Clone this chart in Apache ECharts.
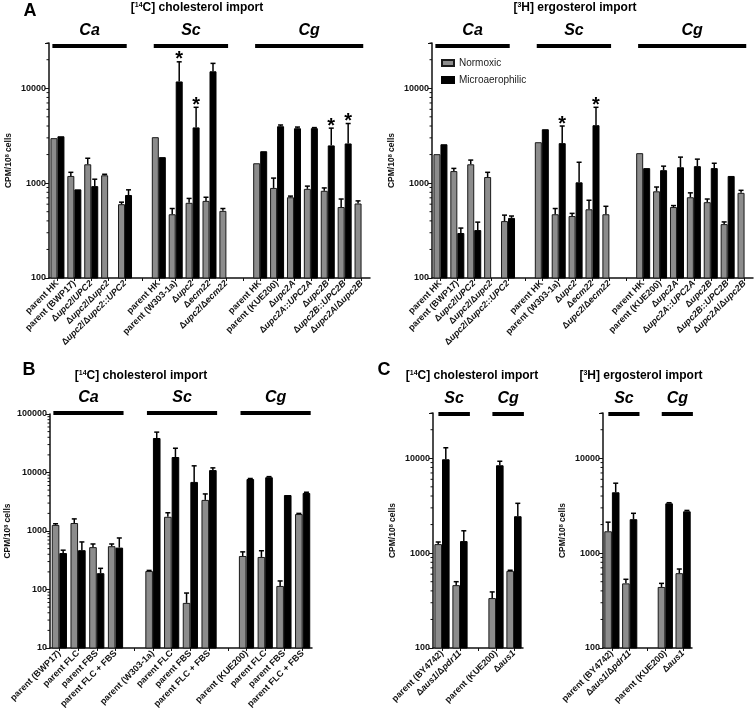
<!DOCTYPE html>
<html>
<head>
<meta charset="utf-8">
<script src="https://cdn.jsdelivr.net/npm/echarts@6/dist/echarts.min.js"></script>
<style>html,body{margin:0;padding:0;background:#fff}#c{width:754px;height:711px}</style>
</head>
<body>
<div id="c"></div>
<script>
// ---------------- DATA ----------------
const catsA = ["parent HK","parent (BWP17)","Δupc2/UPC2","Δupc2/Δupc2","Δupc2/Δupc2::UPC2","",
  "parent HK","parent (W303-1a)","Δupc2","Δecm22","Δupc2/Δecm22","",
  "parent HK","parent (KUE200)","Δupc2A","Δupc2A::UPC2A","Δupc2B","Δupc2B::UPC2B","Δupc2A/Δupc2B"];
const catsB = ["parent (BWP17)","parent FLC","parent FBS","parent FLC + FBS","",
  "parent (W303-1a)","parent FLC","parent FBS","parent FLC + FBS","",
  "parent (KUE200)","parent FLC","parent FBS","parent FLC + FBS"];
const catsC = ["parent (BY4742)","Δaus1/Δpdr11","","parent (KUE200)","Δaus1"];

const groupsA = [["Ca",0,4],["Sc",6,10],["Cg",12,18]];
const groupsB = [["Ca",0,3],["Sc",5,8],["Cg",10,13]];
const groupsC = [["Sc",0,1],["Cg",3,4]];

// Panel A, [14C] cholesterol import
const aCholGray     = [2980,1190,1580,1210,600,null, 3050,470,620,650,510,null, 1620,890,710,870,830,560,610];
const aCholGrayErr  = [null,1300,1830,1240,630,null, null,540,690,710,540,null, null,1130,730,930,890,680,650];
const aCholBlack    = [3120,860,930,null,750,null, 1880,11800,3870,15100,null,null, 2170,3980,3790,3800,2500,2620,null];
const aCholBlackErr = [null,null,1100,null,850,null, null,19000,6300,18300,null,null, null,4100,3900,3850,3800,4250,null];
const aCholStars = [7,8,16,17];

// Panel A, [3H] ergosterol import
const aErgoGray     = [2020,1340,1580,1160,398,null, 2700,470,450,530,470,null, 2070,820,560,710,630,370,790];
const aErgoGrayErr  = [null,1430,1750,1300,460,null, null,540,480,660,570,null, null,910,580,790,680,390,840];
const aErgoBlack    = [2570,298,320,null,430,null, 3700,2640,1020,4080,null,null, 1440,1370,1470,1510,1440,1190,null];
const aErgoBlackErr = [null,336,388,null,450,null, null,4000,1660,6300,null,null, null,1510,1880,1790,1620,1200,null];
const aErgoStars = [7,9];

// Panel B, [14C] cholesterol import
const bGray     = [1270,1370,530,550,null, 207,1750,59,3400,null, 374,360,115,1950];
const bGrayErr  = [1330,1610,600,600,null, 212,2050,87,4300,null, 440,460,140,2000];
const bBlack    = [420,470,190,520,null, 38900,18400,6900,11000,null, 7740,8300,4120,4470];
const bBlackErr = [470,650,230,760,null, 49000,26000,13000,12000,null, 7900,8500,4200,4600];

// Panel C, [14C] cholesterol import
const cCholGray     = [1245,460,null,336,650];
const cCholGrayErr  = [1310,500,null,390,660];
const cCholBlack    = [9760,1340,null,8440,2450];
const cCholBlackErr = [12900,1720,null,9300,3350];

// Panel C, [3H] ergosterol import
const cErgoGray     = [1700,480,null,440,615];
const cErgoGrayErr  = [2120,530,null,480,680];
const cErgoBlack    = [4380,2280,null,3350,2760];
const cErgoBlackErr = [5460,2630,null,3400,2820];

const minorMultipliers = [2,3,4,5,6,7,8,9];
const seriesNames = ["Normoxic","Microaerophilic"];
// ---------------------------------------

const FF = '"Liberation Sans", Arial, Helvetica, sans-serif';
const GRAY = '#8c8c8c';

const panels = [
  {grid:{left:49,top:43,width:321,height:235}, cats:catsA, groups:groupsA,
   gray:aCholGray, grayErr:aCholGrayErr, black:aCholBlack, blackErr:aCholBlackErr, stars:aCholStars,
   min:100, max:30000, bw:7, nameGap:36, lineOff:3, span:[-0.3,0.1]},
  {grid:{left:432,top:43,width:321,height:235}, cats:catsA, groups:groupsA,
   gray:aErgoGray, grayErr:aErgoGrayErr, black:aErgoBlack, blackErr:aErgoBlackErr, stars:aErgoStars,
   min:100, max:30000, bw:7, nameGap:36, lineOff:3, span:[-0.3,0.1]},
  {grid:{left:50,top:414,width:262,height:234}, cats:catsB, groups:groupsB,
   gray:bGray, grayErr:bGrayErr, black:bBlack, blackErr:bBlackErr, stars:[],
   min:10, max:100000, bw:7.6, nameGap:38, lineOff:-1, span:[-0.32,0.43]},
  {grid:{left:433,top:413,width:90,height:235}, cats:catsC, groups:groupsC,
   gray:cCholGray, grayErr:cCholGrayErr, black:cCholBlack, blackErr:cCholBlackErr, stars:[],
   min:100, max:30000, bw:7.6, nameGap:36, lineOff:1, span:[-0.2,0.55]},
  {grid:{left:603,top:413,width:89,height:235}, cats:catsC, groups:groupsC,
   gray:cErgoGray, grayErr:cErgoGrayErr, black:cErgoBlack, blackErr:cErgoBlackErr, stars:[],
   min:100, max:30000, bw:7.6, nameGap:36, lineOff:1, span:[-0.2,0.55]}
];

function fmtCat(s) {
  if (!s || s.indexOf('parent') === 0) return s;
  return s.split(/(Δ|\/|::)/).map(p => (p === 'Δ' || p === '/' || p === '::' || p === '') ? p : '{i|' + p + '}').join('');
}
function fmtLog(v) {
  const l = Math.log10(v);
  return Math.abs(l - Math.round(l)) < 1e-6 ? String(Math.round(v)) : '';
}

const grids = [], xAxes = [], yAxes = [], series = [];
panels.forEach((P, k) => {
  grids.push(Object.assign({containLabel:false}, P.grid));
  xAxes.push({
    gridIndex:k, type:'category', data:P.cats, boundaryGap:true,
    axisLine:{lineStyle:{color:'#111', width:1.5}},
    axisTick:{show:true, alignWithLabel:true, length:3, lineStyle:{color:'#111', width:1}},
    axisLabel:{interval:0, rotate:45, fontSize:9, fontWeight:'bold', fontFamily:FF, color:'#111', margin:4,
      formatter:fmtCat, rich:{i:{fontStyle:'italic', fontWeight:'bold', fontSize:9, fontFamily:FF, color:'#111'}}},
    splitLine:{show:false}
  });
  yAxes.push({
    gridIndex:k, type:'log', logBase:10, min:P.min, max:P.max,
    axisLine:{show:true, lineStyle:{color:'#111', width:1.5}},
    axisTick:{show:true, length:4, lineStyle:{color:'#111', width:1}},
    axisLabel:{fontSize:9, fontWeight:'bold', fontFamily:FF, color:'#111', margin:3, formatter:fmtLog},
    splitLine:{show:false},
    name:'CPM/10{s|8} cells', nameLocation:'middle', nameGap:P.nameGap,
    nameTextStyle:{fontSize:8.5, fontWeight:'bold', fontFamily:FF, color:'#111',
      rich:{s:{fontSize:5.5, fontWeight:'bold', fontFamily:FF, verticalAlign:'top', color:'#111'}}}
  });
  series.push({type:'bar', name:seriesNames[0], xAxisIndex:k, yAxisIndex:k, data:P.gray,
    barWidth:P.bw, barGap:'0%', clip:true,
    itemStyle:{color:GRAY, borderColor:'#1a1a1a', borderWidth:1}});
  series.push({type:'bar', name:seriesNames[1], xAxisIndex:k, yAxisIndex:k, data:P.black,
    barWidth:P.bw, barGap:'0%', clip:true,
    itemStyle:{color:'#000', borderColor:'#000', borderWidth:1}});

  [[P.gray, P.grayErr, -1, []], [P.black, P.blackErr, 1, P.stars]].forEach(([vals, errs, side, stars]) => {
    const d = [];
    vals.forEach((v, i) => {
      if (v != null && errs[i] != null) d.push([i, v, errs[i], stars.indexOf(i) >= 0 ? 1 : 0]);
    });
    series.push({type:'custom', xAxisIndex:k, yAxisIndex:k, z:5, clip:false, silent:true,
      encode:{x:0, y:[1,2]}, data:d,
      renderItem:function(params, api) {
        const i = api.value(0), v = api.value(1), e = api.value(2), st = api.value(3);
        const p0 = api.coord([i, v]), p1 = api.coord([i, e]);
        const x = p0[0] + side * P.bw / 2;
        const ch = [];
        if (p1[1] < p0[1] - 0.5) {
          ch.push({type:'line', shape:{x1:x, y1:p0[1], x2:x, y2:p1[1]}, style:{stroke:'#000', lineWidth:1.5}});
          ch.push({type:'line', shape:{x1:x - 2.5, y1:p1[1], x2:x + 2.5, y2:p1[1]}, style:{stroke:'#000', lineWidth:1.5}});
        }
        if (st) {
          ch.push({type:'text', x:x, y:p1[1] - 2, style:{text:'*', font:'bold 20px ' + FF, fill:'#000', align:'center', verticalAlign:'middle'}});
        }
        return {type:'group', children:ch};
      }});
  });

  // minor ticks on log axis
  const minors = [];
  for (let dec = P.min; dec < P.max; dec *= 10) {
    minorMultipliers.forEach(m => { const v = m * dec; if (v <= P.max + 1e-6) minors.push([0, v]); });
  }
  series.push({type:'custom', xAxisIndex:k, yAxisIndex:k, clip:false, silent:true, encode:{x:0, y:1}, data:minors,
    renderItem:function(params, api) {
      const y = api.coord([0, api.value(1)])[1];
      const x = params.coordSys.x;
      return {type:'line', shape:{x1:x - 2.5, y1:y, x2:x, y2:y}, style:{stroke:'#111', lineWidth:1}};
    }});

  // group brackets (Ca / Sc / Cg)
  series.push({type:'custom', xAxisIndex:k, yAxisIndex:k, clip:false, silent:true, encode:{x:0, y:1},
    data:P.groups.map(g => [g[1], P.min]),
    renderItem:function(params, api) {
      const g = P.groups[params.dataIndex];
      const slot = api.size([1, 0])[0];
      const x0 = api.coord([g[1], P.min])[0] + P.span[0] * slot;
      const x1 = api.coord([g[2], P.min])[0] + P.span[1] * slot;
      const y = params.coordSys.y + P.lineOff;
      return {type:'group', children:[
        {type:'line', shape:{x1:x0, y1:y, x2:x1, y2:y}, style:{stroke:'#000', lineWidth:4}},
        {type:'text', x:(x0 + x1) / 2, y:y - 15, style:{text:g[0], font:'italic bold 16px ' + FF, fill:'#000', align:'center', verticalAlign:'middle'}}
      ]};
    }});
});

function titleEl(x, y, iso, rest) {
  return {type:'text', x:x, y:y, silent:true, style:{
    text:'{n|[}{s|' + iso + '}{n|' + rest + '}', align:'center', verticalAlign:'middle',
    rich:{n:{fontSize:12, fontWeight:'bold', fontFamily:FF, fill:'#000', color:'#000'},
          s:{fontSize:7, fontWeight:'bold', fontFamily:FF, verticalAlign:'top', fill:'#000', color:'#000'}}}};
}
function letterEl(x, y, t) {
  return {type:'text', x:x, y:y, silent:true, style:{text:t, font:'bold 18px ' + FF, fill:'#000', align:'center', verticalAlign:'middle'}};
}

const chart = echarts.init(document.getElementById('c'), null, {renderer:'canvas'});
chart.setOption({
  animation:false,
  backgroundColor:'#fff',
  grid:grids, xAxis:xAxes, yAxis:yAxes, series:series,
  legend:{data:seriesNames, orient:'vertical', left:441, top:58, padding:0, itemGap:7,
    itemWidth:12, itemHeight:6, icon:'rect',
    textStyle:{fontSize:10, fontFamily:FF, color:'#222'}},
  graphic:[
    letterEl(30, 11, 'A'),
    titleEl(197, 8, '14', 'C] cholesterol import'),
    titleEl(575, 8, '3', 'H] ergosterol import'),
    letterEl(29, 370, 'B'),
    titleEl(141, 376, '14', 'C] cholesterol import'),
    letterEl(384, 370, 'C'),
    titleEl(472, 376, '14', 'C] cholesterol import'),
    titleEl(641, 376, '3', 'H] ergosterol import')
  ]
});
</script>
</body>
</html>
